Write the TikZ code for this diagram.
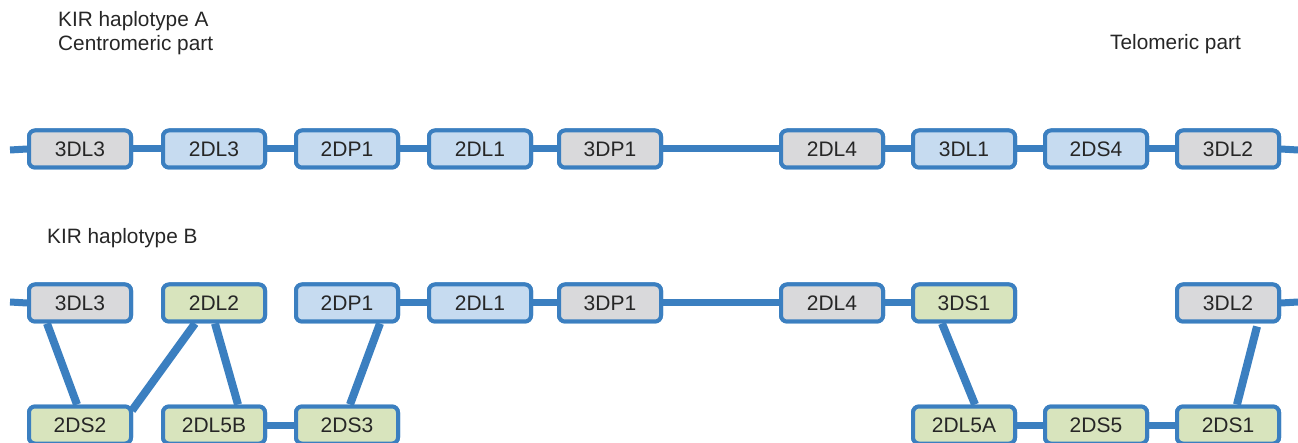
\documentclass[tikz,border=0pt]{standalone}
\usepackage{fontspec}
\setmainfont{Liberation Sans}
\definecolor{kirline}{HTML}{3B7FC0}
\definecolor{fillgrey}{HTML}{D9D9DB}
\definecolor{fillblue}{HTML}{C6DBF0}
\definecolor{fillgreen}{HTML}{D8E4BD}
\tikzset{
  gene/.style={draw=kirline, line width=4pt, rounded corners=6pt,
    minimum width=102pt, minimum height=37pt, inner sep=0pt,
    font=\fontsize{21}{25}\selectfont, text=black!85},
  pseudo/.style={gene, fill=fillgrey},
  inhib/.style={gene, fill=fillblue},
  activ/.style={gene, fill=fillgreen},
  link/.style={draw=kirline, line width=7pt},
  cross/.style={draw=kirline, line width=8pt},
  heading/.style={anchor=base west, inner sep=0pt, font=\fontsize{20.8}{25}\selectfont, text=black!85}
}
\begin{document}
\begin{tikzpicture}[x=1pt,y=-1pt]
\useasboundingbox (0,0) rectangle (1298,443);

% headings
\node[heading] (hA) at (58,27) {KIR haplotype A};
\node[heading] (hcen) at (58,51) {Centromeric part};
\node[heading] (htel) at (1110,50) {Telomeric part};
\node[heading] (hB) at (47,244) {KIR haplotype B};

% haplotype A
\coordinate (aL) at (10,150);
\coordinate (aR) at (1298,150);
\node[pseudo] (a1) at (80,149) {3DL3};
\node[inhib]  (a2) at (214,149) {2DL3};
\node[inhib]  (a3) at (347,149) {2DP1};
\node[inhib]  (a4) at (480,149) {2DL1};
\node[pseudo] (a5) at (610,149) {3DP1};
\node[pseudo] (a6) at (832,149) {2DL4};
\node[inhib]  (a7) at (964,149) {3DL1};
\node[inhib]  (a8) at (1096,149) {2DS4};
\node[pseudo] (a9) at (1228,149) {3DL2};

% haplotype B, upper row
\coordinate (bL) at (10,302);
\coordinate (bR) at (1298,302);
\node[pseudo] (b1) at (80,303) {3DL3};
\node[activ]  (b2) at (214,303) {2DL2};
\node[inhib]  (b3) at (347,303) {2DP1};
\node[inhib]  (b4) at (480,303) {2DL1};
\node[pseudo] (b5) at (610,303) {3DP1};
\node[pseudo] (b6) at (832,303) {2DL4};
\node[activ]  (b7) at (964,303) {3DS1};
\node[pseudo] (b9) at (1228,303) {3DL2};

% haplotype B, lower row
\node[activ] (c1) at (80,425) {2DS2};
\node[activ] (c2) at (214,425) {2DL5B};
\node[activ] (c3) at (347,425) {2DS3};
\node[activ] (c7) at (964,425) {2DL5A};
\node[activ] (c8) at (1096,425) {2DS5};
\node[activ] (c9) at (1228,425) {2DS1};

% connectors
\draw[link] (aL) -- (a1.west);
\draw[link] (a1) -- (a2);
\draw[link] (a2) -- (a3);
\draw[link] (a3) -- (a4);
\draw[link] (a4) -- (a5);
\draw[link] (a5) -- (a6);
\draw[link] (a6) -- (a7);
\draw[link] (a7) -- (a8);
\draw[link] (a8) -- (a9);
\draw[link] (a9.east) -- (aR);

\draw[link] (bL) -- (b1.west);
\draw[link] (b3) -- (b4);
\draw[link] (b4) -- (b5);
\draw[link] (b5) -- (b6);
\draw[link] (b6) -- (b7);
\draw[link] (b9.east) -- (bR);

\draw[link] (c2) -- (c3);
\draw[link] (c7) -- (c8);
\draw[link] (c8) -- (c9);

\draw[cross] ([xshift=-33pt]b1.south) -- ([xshift=-3pt]c1.north);
\draw[cross] ([xshift=-19pt]b2.south) -- ([xshift=-1pt,yshift=-6pt]c1.north east);
\draw[cross] ([xshift=1pt]b2.south) -- ([xshift=24pt]c2.north);
\draw[cross] ([xshift=33pt]b3.south) -- ([xshift=3pt]c3.north);
\draw[cross] ([xshift=-22pt]b7.south) -- ([xshift=11pt]c7.north);
\draw[cross] ([xshift=29pt,yshift=-3pt]b9.south) -- ([xshift=9pt]c9.north);

% boxes drawn again over the connector ends
\foreach \n/\s/\t in {a1/pseudo/3DL3,a2/inhib/2DL3,a3/inhib/2DP1,a4/inhib/2DL1,a5/pseudo/3DP1,a6/pseudo/2DL4,a7/inhib/3DL1,a8/inhib/2DS4,a9/pseudo/3DL2,
  b1/pseudo/3DL3,b2/activ/2DL2,b3/inhib/2DP1,b4/inhib/2DL1,b5/pseudo/3DP1,b6/pseudo/2DL4,b7/activ/3DS1,b9/pseudo/3DL2,
  c1/activ/2DS2,c2/activ/2DL5B,c3/activ/2DS3,c7/activ/2DL5A,c8/activ/2DS5,c9/activ/2DS1}
  \node[\s] at (\n) {\t};
\end{tikzpicture}
\end{document}
